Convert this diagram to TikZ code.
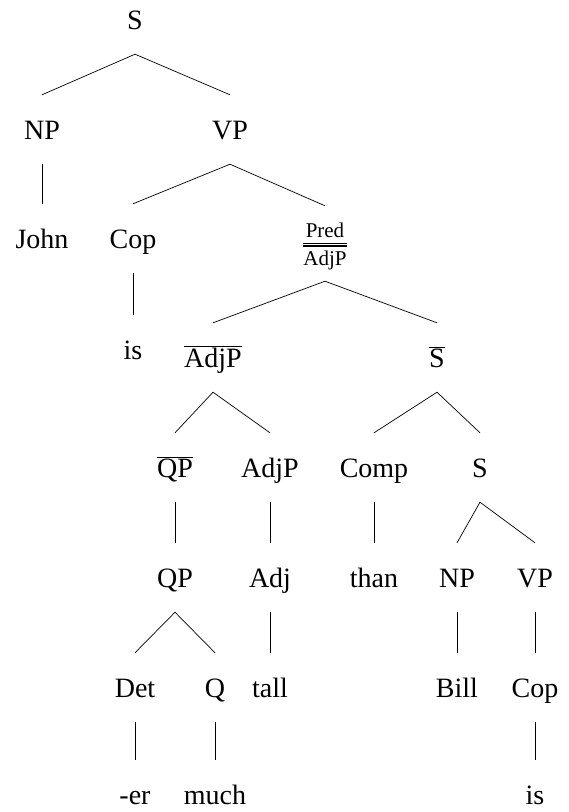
\documentclass[tikz,border=0pt]{standalone}
\usepackage{fontspec}
\setmainfont{Liberation Serif}
\usetikzlibrary{positioning}

\tikzset{
	cat/.style={font=\fontsize{28}{32}\selectfont, anchor=base, inner sep=0pt,
		text height=44pt, text depth=25pt},
	branch/.style={line width=0.7pt}
}
\newcommand{\barcat}[1]{$\overline{\mbox{#1}}$}

\begin{document}
\begin{tikzpicture}[x=1pt, y=-1pt]
	\useasboundingbox (0,0) rectangle (569,812);

	\node[cat]	(S)		at (135,29)		{S};
	\node[cat]	(NPa)	at (42,139)		{NP};
	\node[cat]	(VPa)	at (230,139)	{VP};
	\node[cat]	(John)	at (42,248)		{John};
	\node[cat]	(Copa)	at (133,248)	{Cop};
	\node[cat, text height=59pt, text depth=16pt]
				(Pred)	at (325,265)	{\fontsize{21}{24}\selectfont
		\setlength{\arrayrulewidth}{1.2pt}\setlength{\doublerulesep}{2.6pt}%
		\begin{tabular}[b]{@{}c@{}}Pred\\[-1.5pt]\hline\hline\rule{0pt}{18.5pt}AdjP\end{tabular}};
	\node[cat]	(isa)	at (133,359)	{is};
	\node[cat]	(AdjPb)	at (213,367)	{\barcat{AdjP}};
	\node[cat]	(Sb)	at (437,367)	{\barcat{S}};
	\node[cat]	(QPb)	at (175,477)	{\barcat{QP}};
	\node[cat]	(AdjP)	at (270,477)	{AdjP};
	\node[cat]	(Comp)	at (374,477)	{Comp};
	\node[cat]	(Sc)	at (480,477)	{S};
	\node[cat]	(QP)	at (175,587)	{QP};
	\node[cat]	(Adj)	at (270,587)	{Adj};
	\node[cat]	(than)	at (374,587)	{than};
	\node[cat]	(NPb)	at (457,587)	{NP};
	\node[cat]	(VPb)	at (535,587)	{VP};
	\node[cat]	(Det)	at (135,697)	{Det};
	\node[cat]	(Q)		at (215,697)	{Q};
	\node[cat]	(tall)	at (270,697)	{tall};
	\node[cat]	(Bill)	at (457,697)	{Bill};
	\node[cat]	(Copb)	at (535,697)	{Cop};
	\node[cat]	(er)	at (135,804)	{-er};
	\node[cat]	(much)	at (215,804)	{much};
	\node[cat]	(isb)	at (535,804)	{is};

	\path[branch]
	(S.south)		edge	(NPa.north)
					edge	(VPa.north)
	(NPa.south)		edge	(John.north)
	(VPa.south)		edge	(Copa.north)
					edge	(Pred.north)
	(Copa.south)	edge	(isa.north)
	(Pred.south)	edge	(AdjPb.north)
					edge	(Sb.north)
	(AdjPb.south)	edge	(QPb.north)
					edge	(AdjP.north)
	(Sb.south)		edge	(Comp.north)
					edge	(Sc.north)
	(QPb.south)		edge	(QP.north)
	(AdjP.south)	edge	(Adj.north)
	(Comp.south)	edge	(than.north)
	(Sc.south)		edge	(NPb.north)
					edge	(VPb.north)
	(QP.south)		edge	(Det.north)
					edge	(Q.north)
	(Adj.south)		edge	(tall.north)
	(NPb.south)		edge	(Bill.north)
	(VPb.south)		edge	(Copb.north)
	(Det.south)		edge	(er.north)
	(Q.south)		edge	(much.north)
	(Copb.south)	edge	(isb.north)
;
\end{tikzpicture}
\end{document}
